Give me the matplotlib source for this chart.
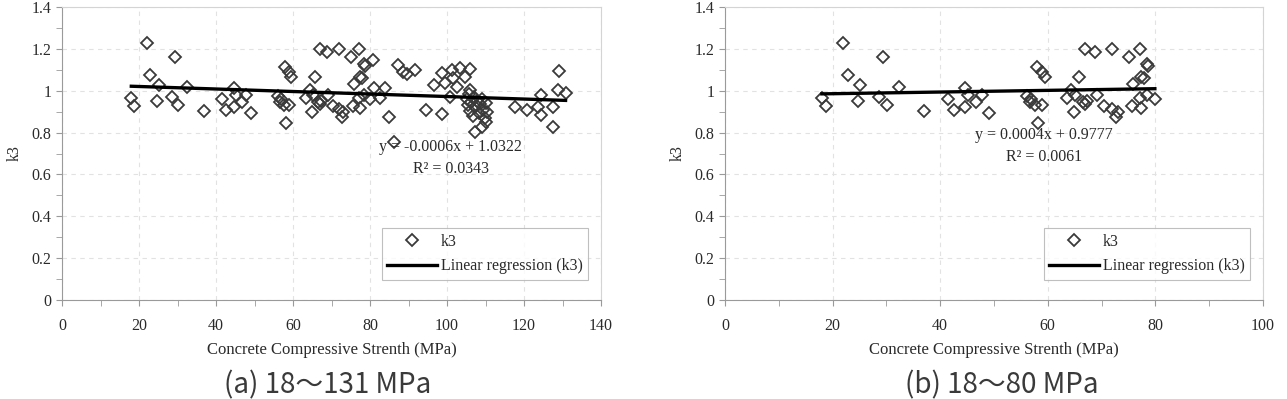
import matplotlib
matplotlib.use('Agg')
import matplotlib.pyplot as plt
import numpy as np
from matplotlib.ticker import MultipleLocator

plt.rcParams['font.family'] = ['Liberation Serif', 'DejaVu Sans']

# k3 vs compressive strength, 18-80 MPa (shared by both panels)
fc_low = [18.0, 18.8, 22.0, 22.8, 24.8, 25.1, 28.6, 29.4, 30.2, 32.4,
          36.9, 41.5, 42.6, 44.6, 44.6, 45.2, 46.7, 47.7, 49.1, 56.1,
          56.7, 56.9, 57.6, 57.9, 58.1, 58.9, 58.9, 59.5, 63.5, 64.4,
          64.9, 65.1, 65.8, 66.5, 66.9, 67.2, 66.9, 68.8, 69.1, 70.4,
          71.9, 71.9, 72.6, 73.0, 75.0, 75.6, 75.8, 77.1, 77.1, 77.4,
          77.4, 78.4, 78.4, 79.9, 77.9, 78.6]
k3_low = [0.964, 0.927, 1.226, 1.075, 0.951, 1.027, 0.969, 1.160, 0.932, 1.019,
          0.903, 0.960, 0.908, 1.011, 0.924, 0.979, 0.944, 0.979, 0.892, 0.976,
          0.948, 0.962, 0.932, 1.115, 0.847, 1.091, 0.932, 1.067, 0.967, 1.003,
          0.900, 0.979, 1.067, 0.945, 0.935, 0.950, 1.199, 1.186, 0.979, 0.927,
          1.199, 0.911, 0.876, 0.900, 1.160, 0.927, 1.032, 1.198, 0.963, 1.064,
          0.916, 1.128, 0.979, 0.960, 1.059, 1.120]

# extra points above 80 MPa (panel a only)
fc_high = [80.9, 81.0, 82.6, 83.9, 85.0, 86.2, 87.4, 88.7, 89.5, 91.7,
           94.5, 96.5, 98.6, 98.8, 99.5, 100.8, 101.2, 101.6, 102.5, 103.4,
           104.7, 106.0, 106.0, 105.3, 105.5, 106.0, 106.3, 106.8, 107.0, 107.4,
           107.9, 108.3, 108.6, 109.1, 109.4, 109.8, 110.2, 110.5, 105.8, 107.3,
           109.0, 110.1, 117.7, 120.7, 123.7, 124.4, 124.4, 127.6, 127.6, 129.0,
           128.8, 130.8]
k3_high = [1.147, 1.011, 0.967, 1.011, 0.875, 0.755, 1.125, 1.090, 1.078, 1.097,
           0.910, 1.027, 1.083, 0.890, 1.035, 0.971, 1.097, 1.059, 1.019, 1.108,
           1.067, 1.105, 1.003, 0.960, 0.930, 0.905, 0.945, 0.880, 0.970, 0.920,
           0.950, 0.895, 0.935, 0.960, 0.910, 0.870, 0.940, 0.900, 0.985, 0.804,
           0.826, 0.852, 0.922, 0.908, 0.924, 0.979, 0.884, 0.922, 0.826, 1.094,
           1.003, 0.989]

fc_all = fc_low + fc_high
k3_all = k3_low + k3_high

# regression coefficients as printed on the chart
slope_a, icpt_a = -0.0006, 1.0322
slope_b, icpt_b = 0.0004, 0.9777

txt = '#2a2a2a'
fs = 11.5

fig = plt.figure(figsize=(12.87, 3.99), dpi=100)
ax1 = fig.add_axes([62 / 1287, 99 / 399, 539 / 1287, 293 / 399])
ax2 = fig.add_axes([725 / 1287, 99 / 399, 538 / 1287, 293 / 399])


def panel(ax, x, y, slope, icpt, xmax, eq, r2, eq_pos):
    ax.plot(x, y, linestyle='none', marker='D', ms=5.8, mfc='none',
            mec='#3a3a3a', mew=1.3, label='k3', zorder=3)
    xl = np.array([min(x), max(x)])
    ax.plot(xl, slope * xl + icpt, color='black', lw=2.4,
            label='Linear regression (k3)', zorder=4)
    ax.set_xlim(0, xmax)
    ax.set_ylim(0, 1.4)
    ax.xaxis.set_major_locator(MultipleLocator(20))
    ax.xaxis.set_minor_locator(MultipleLocator(10))
    ax.yaxis.set_minor_locator(MultipleLocator(0.1))
    ax.set_yticks(np.arange(0, 1.41, 0.2))
    ax.set_yticklabels(['0', '0.2', '0.4', '0.6', '0.8', '1', '1.2', '1.4'])
    ax.grid(True, which='major', linestyle=(0, (4, 4)), color='#e2e2e2', lw=0.8)
    ax.set_axisbelow(True)
    for s in ['left', 'bottom']:
        ax.spines[s].set_color('#9a9a9a')
    for s in ['top', 'right']:
        ax.spines[s].set_color('#d4d4d4')
    ax.tick_params(which='both', direction='out', length=4, color='#9a9a9a',
                   labelsize=fs, labelcolor=txt)
    ax.tick_params(axis='x', pad=9)
    ax.tick_params(axis='y', pad=3.5)
    ax.set_xlabel('Concrete Compressive Strenth (MPa)', fontsize=12, color=txt)
    ax.xaxis.set_label_coords(0.5, -0.171)
    ax.xaxis.label.set_va('center')
    ax.set_ylabel('k3', fontsize=fs, color=txt)
    ax.yaxis.set_label_coords(-0.087, 0.5)
    ax.yaxis.label.set_va('center')
    ax.text(eq_pos[0], eq_pos[1], eq, fontsize=fs, color=txt,
            ha='center', va='center', zorder=5)
    ax.text(eq_pos[0], eq_pos[2], r2, fontsize=fs, color=txt,
            ha='center', va='center', zorder=5)
    leg = ax.legend(loc='lower right', bbox_to_anchor=(0.976, 0.068),
                    prop={'size': fs}, frameon=True, fancybox=False,
                    edgecolor='#b0b0b0', handlelength=3.1, handletextpad=0.25,
                    borderpad=0.35, labelspacing=0.55, borderaxespad=0)
    leg.get_frame().set_linewidth(0.8)
    for t in leg.get_texts():
        t.set_color(txt)


panel(ax1, fc_all, k3_all, slope_a, icpt_a, 140,
      'y = -0.0006x + 1.0322', 'R² = 0.0343', (101.0, 0.731, 0.625))
panel(ax2, fc_low, k3_low, slope_b, icpt_b, 100,
      'y = 0.0004x + 0.9777', 'R² = 0.0061', (59.3, 0.788, 0.684))

cap_font = ['Noto Sans CJK KR', 'DejaVu Sans']
fig.text(328 / 1287, 1 - 385 / 399, '(a) 18～131 MPa', family=cap_font,
         fontsize=20, color='#3a3a3a', ha='center', va='center')
fig.text(1002 / 1287, 1 - 385 / 399, '(b) 18～80 MPa', family=cap_font,
         fontsize=20, color='#3a3a3a', ha='center', va='center')

fig.savefig('out.png', dpi=100)
